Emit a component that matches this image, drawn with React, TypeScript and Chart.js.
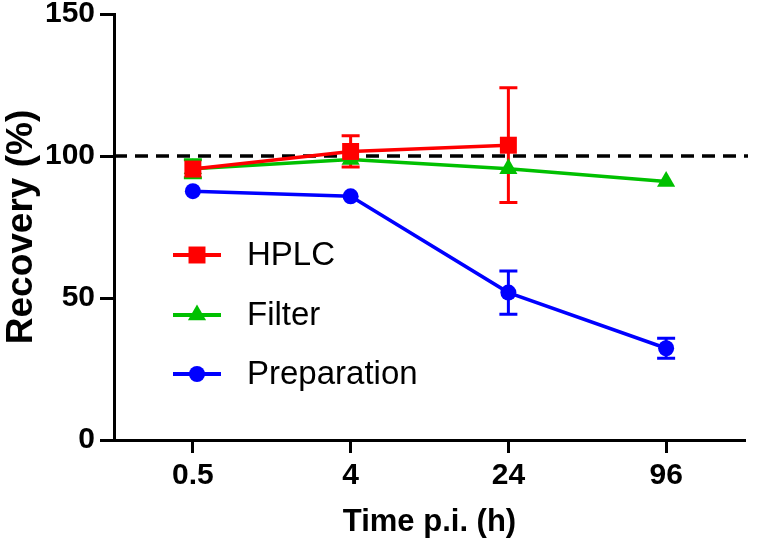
import React, { useEffect, useRef } from 'react';
import { Chart, registerables } from 'chart.js';

Chart.register(...registerables);

const CATEGORIES = ['0.5', '4', '24', '96'];
const SERIES_NAMES = ['HPLC', 'Filter', 'Preparation'];
const HPLC = [95.4, 101.6, 103.8, null];
const HPLC_ERR = [0, 5.5, 20.2, null];
const FILTER = [95.5, 98.8, 95.5, 91.0];
const FILTER_ERR = [3.2, 0, 0, 0];
const PREP = [87.6, 85.8, 51.9, 32.3];
const PREP_ERR = [0, 0, 7.6, 3.5];
const REFERENCE = 100;
const Y_MIN = 0;
const Y_MAX = 150;
const Y_STEP = 50;

const COLORS = ['#FF0000', '#00C000', '#0000FF'];
const STYLES = ['rect', 'triangle', 'circle'];
const RADII = [12, 10.5, 8];
const ERRORS = [HPLC_ERR, FILTER_ERR, PREP_ERR];
const FONT = 'Liberation Sans, Arial, Helvetica, sans-serif';

function drawMarker(ctx: CanvasRenderingContext2D, style: string, x: number, y: number, r: number) {
  ctx.beginPath();
  if (style === 'rect') {
    const s = Math.SQRT1_2 * r;
    ctx.rect(x - s, y - s, 2 * s, 2 * s);
  } else if (style === 'triangle') {
    for (let k = 0; k < 3; k++) {
      const a = (k * 2 * Math.PI) / 3;
      const px = x + Math.sin(a) * r;
      const py = y - Math.cos(a) * r;
      if (k === 0) ctx.moveTo(px, py);
      else ctx.lineTo(px, py);
    }
    ctx.closePath();
  } else {
    ctx.arc(x, y, r, 0, Math.PI * 2);
  }
  ctx.fill();
}

const refLinePlugin = {
  id: 'refLine',
  beforeDatasetsDraw(chart: any) {
    const { ctx, chartArea, scales } = chart;
    const y = scales.y.getPixelForValue(REFERENCE);
    ctx.save();
    ctx.strokeStyle = '#000';
    ctx.lineWidth = 3.5;
    ctx.setLineDash([13, 8]);
    ctx.beginPath();
    ctx.moveTo(chartArea.left, y);
    ctx.lineTo(chartArea.right + 3, y);
    ctx.stroke();
    ctx.restore();
  },
};

const errorBarPlugin = {
  id: 'errorBars',
  beforeDatasetsDraw(chart: any) {
    const { ctx, scales } = chart;
    ctx.save();
    ctx.lineWidth = 3;
    ctx.lineCap = 'butt';
    for (let i = chart.data.datasets.length - 1; i >= 0; i--) {
      const ds = chart.data.datasets[i];
      const meta = chart.getDatasetMeta(i);
      const errs = ERRORS[i];
      ctx.strokeStyle = ds.borderColor;
      ds.data.forEach((v: number | null, j: number) => {
        const e = errs[j];
        if (v == null || !e) return;
        const x = meta.data[j].x;
        const yt = scales.y.getPixelForValue(v + e);
        const yb = scales.y.getPixelForValue(v - e);
        ctx.beginPath();
        ctx.moveTo(x, yt);
        ctx.lineTo(x, yb);
        ctx.moveTo(x - 9, yt);
        ctx.lineTo(x + 9, yt);
        ctx.moveTo(x - 9, yb);
        ctx.lineTo(x + 9, yb);
        ctx.stroke();
      });
    }
    ctx.restore();
  },
};

const legendPlugin = {
  id: 'insideLegend',
  afterDraw(chart: any) {
    const { ctx, chartArea } = chart;
    const x0 = chartArea.left + 59;
    const rows = [241, 301, 360];
    ctx.save();
    chart.data.datasets.forEach((ds: any, i: number) => {
      const y = chartArea.top + rows[i];
      ctx.strokeStyle = ds.borderColor;
      ctx.fillStyle = ds.borderColor;
      ctx.lineWidth = 4;
      ctx.beginPath();
      ctx.moveTo(x0, y);
      ctx.lineTo(x0 + 48, y);
      ctx.stroke();
      drawMarker(ctx, STYLES[i], x0 + 24, y, RADII[i]);
      ctx.fillStyle = '#000';
      ctx.font = `33px ${FONT}`;
      ctx.textBaseline = 'middle';
      ctx.textAlign = 'left';
      ctx.fillText(ds.label, x0 + 74, y + 1);
    });
    ctx.restore();
  },
};

export default function App() {
  const canvasRef = useRef<HTMLCanvasElement | null>(null);

  useEffect(() => {
    document.body.style.margin = '0';
    const canvas = canvasRef.current;
    if (!canvas) return;
    const seriesData = [HPLC, FILTER, PREP];
    const chart = new Chart(canvas, {
      type: 'line',
      data: {
        labels: CATEGORIES,
        datasets: seriesData.map((d, i) => ({
          label: SERIES_NAMES[i],
          data: d,
          borderColor: COLORS[i],
          backgroundColor: COLORS[i],
          borderWidth: 3.5,
          pointStyle: STYLES[i] as any,
          pointRadius: RADII[i],
          pointHoverRadius: RADII[i],
          pointBorderWidth: 0,
          pointBackgroundColor: COLORS[i],
          tension: 0,
          fill: false,
          spanGaps: false,
        })),
      },
      options: {
        animation: false,
        responsive: false,
        devicePixelRatio: 1,
        layout: { padding: { top: 14, right: 3, bottom: 0, left: 0 } },
        plugins: {
          legend: { display: false },
          tooltip: { enabled: false },
        },
        scales: {
          x: {
            type: 'category',
            offset: true,
            grid: {
              display: true,
              drawOnChartArea: false,
              drawTicks: true,
              tickLength: 13,
              tickWidth: 3,
              tickColor: '#000',
              offset: false,
            },
            border: { display: true, color: '#000', width: 3 },
            ticks: {
              color: '#000',
              padding: 5,
              maxRotation: 0,
              autoSkip: false,
              font: { family: FONT, size: 30, weight: 'bold' },
            },
            title: {
              display: true,
              text: 'Time p.i. (h)',
              color: '#000',
              padding: { top: 0, bottom: 8 },
              font: { family: FONT, size: 31, weight: 'bold' },
            },
            afterFit(scale: any) {
              scale.height = 109;
              scale.paddingLeft = 0;
              scale.paddingRight = 0;
            },
          },
          y: {
            min: Y_MIN,
            max: Y_MAX,
            grid: {
              display: true,
              drawOnChartArea: false,
              drawTicks: true,
              tickLength: 14,
              tickWidth: 3,
              tickColor: '#000',
            },
            border: { display: true, color: '#000', width: 3 },
            ticks: {
              stepSize: Y_STEP,
              color: '#000',
              padding: 5,
              font: { family: FONT, size: 30, weight: 'bold' },
            },
            title: {
              display: true,
              text: 'Recovery (%)',
              color: '#000',
              padding: { top: 0, bottom: 0 },
              font: { family: FONT, size: 37, weight: 'bold' },
            },
            afterFit(scale: any) {
              scale.width = 114;
              scale.paddingTop = 0;
              scale.paddingBottom = 0;
            },
          },
        },
      },
      plugins: [refLinePlugin, errorBarPlugin, legendPlugin],
    });
    return () => chart.destroy();
  }, []);

  return (
    <div style={{ width: 757, height: 549 }}>
      <canvas ref={canvasRef} width={757} height={549} style={{ display: 'block' }} />
    </div>
  );
}
